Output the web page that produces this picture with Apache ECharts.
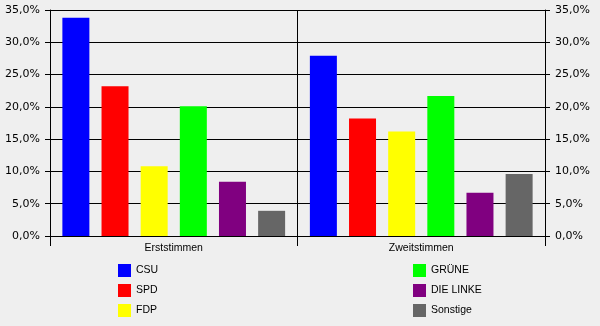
<!DOCTYPE html>
<html><head><meta charset="utf-8">
<script src="https://cdn.jsdelivr.net/npm/echarts@6/dist/echarts.min.js"></script>
<style>html,body{margin:0;padding:0;background:#efefef;}#c{width:600px;height:326px;}</style>
</head><body><div id="c"></div>
<script>
var categories = ['Erststimmen', 'Zweitstimmen'];
var parties = ['CSU', 'SPD', 'FDP', 'GRÜNE', 'DIE LINKE', 'Sonstige'];
var CSU = [33.8, 27.9];
var SPD = [23.2, 18.2];
var FDP = [10.8, 16.2];
var GRUENE = [20.1, 21.7];
var LINKE = [8.4, 6.7];
var SONSTIGE = [3.9, 9.6];
var colors = ['#0000ff', '#ff0000', '#ffff00', '#00ff00', '#800080', '#666666'];
var yTicks = [0, 5, 10, 15, 20, 25, 30, 35];

var values = [CSU, SPD, FDP, GRUENE, LINKE, SONSTIGE];
var fmt = function (v) { return v.toFixed(1).replace('.', ',') + '%'; };
var txt = { color: '#000', fontFamily: 'Liberation Sans', fontSize: 10.5 };
var ytxt = { color: '#000', fontFamily: 'DejaVu Sans', fontSize: 11 };

var yAxisBase = {
  type: 'value', min: yTicks[0], max: yTicks[yTicks.length - 1], interval: 5,
  axisLine: { show: true, lineStyle: { color: '#000', width: 1 } },
  axisTick: { show: true, length: 5, lineStyle: { color: '#000' } },
  axisLabel: Object.assign({ formatter: fmt, margin: 10 }, ytxt)
};

var chart = echarts.init(document.getElementById('c'), null, { renderer: 'canvas' });
chart.setOption({
  backgroundColor: '#efefef',
  animation: false,
  grid: { left: 50, right: 55, top: 10, bottom: 90 },
  legend: [
    { data: parties.slice(0, 3), orient: 'vertical', left: 118, top: 264, height: 62, padding: 0, itemWidth: 13, itemHeight: 13, itemGap: 7, textStyle: txt, icon: 'rect' },
    { data: parties.slice(3), orient: 'vertical', left: 413, top: 264, height: 62, padding: 0, itemWidth: 13, itemHeight: 13, itemGap: 7, textStyle: txt, icon: 'rect' }
  ],
  xAxis: {
    type: 'category', data: categories,
    axisLine: { lineStyle: { color: '#000' } },
    axisTick: { show: true, length: 10, lineStyle: { color: '#000' } },
    axisLabel: Object.assign({ margin: 7 }, txt),
    splitLine: { show: true, lineStyle: { color: '#000', width: 1 } }
  },
  yAxis: [
    Object.assign({}, yAxisBase, { position: 'left', splitLine: { show: true, lineStyle: { color: '#000', width: 1 } } }),
    Object.assign({}, yAxisBase, { position: 'right', splitLine: { show: false } })
  ],
  series: parties.map(function (p, i) {
    return {
      name: p, type: 'bar', data: values[i], barWidth: 27, barGap: '45%',
      itemStyle: { color: colors[i] }
    };
  })
});
</script></body></html>
